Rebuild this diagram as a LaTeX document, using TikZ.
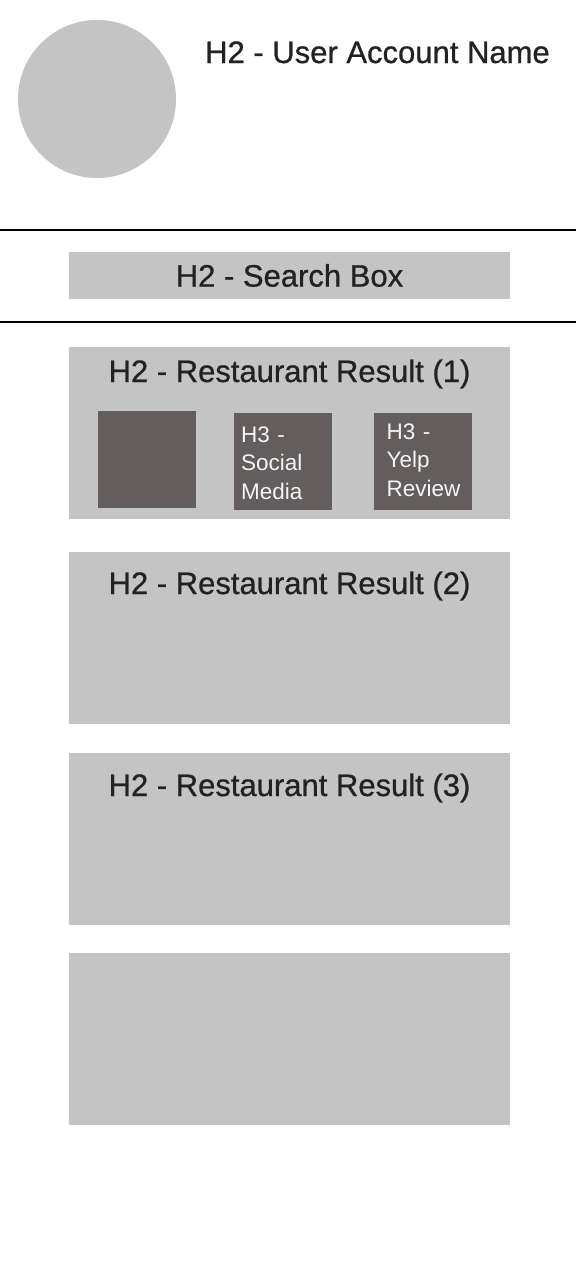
\documentclass[tikz,border=0pt]{standalone}
\usepackage{fontspec}
\setmainfont{Liberation Sans}
\newfontfamily\headfont{Liberation Sans}[FakeBold=0.8]
\usetikzlibrary{positioning,calc}
\definecolor{wfGray}{HTML}{C4C4C4}
\definecolor{wfDark}{HTML}{635D5D}
\definecolor{wfInk}{HTML}{222222}
\tikzset{
  avatar/.style={circle, fill=wfGray, minimum size=158pt, inner sep=0pt},
  h2text/.style={font=\headfont\fontsize{31}{37}\selectfont, text=wfInk, inner sep=0pt},
  h3text/.style={font=\fontsize{22.5}{28.5}\selectfont, text=white!96!black,
    inner sep=0pt, align=left, text width=90pt},
  panel/.style={fill=wfGray, minimum width=441pt, inner sep=0pt, outer sep=0pt},
  searchbox/.style={panel, minimum height=47pt, h2text},
  resultbox/.style={panel, minimum height=171.5pt},
  thumb/.style={fill=wfDark, minimum width=98pt, minimum height=97pt, inner sep=0pt},
  divider/.style={line width=2pt, draw=black}
}

\begin{document}
\begin{tikzpicture}[x=1pt, y=-1pt]
  \useasboundingbox[fill=white] (0,0) rectangle (576,1274);

  % header: avatar and account name
  \node[avatar] (avatar) at (97,99) {};
  \node[h2text, anchor=base west] (username) at (205,63) {H2 - User Account Name};

  % search strip between two rules
  \coordinate (ruleTopL) at (0,230);
  \coordinate (ruleTopR) at (576,230);
  \coordinate (ruleBotL) at (0,322);
  \coordinate (ruleBotR) at (576,322);
  \draw[divider] (ruleTopL) -- (ruleTopR);
  \draw[divider] (ruleBotL) -- (ruleBotR);
  \node[searchbox, anchor=north west] (search) at (69,252) {H2 - Search Box};

  % result cards
  \node[resultbox, anchor=north west] (res1) at (69,347) {};
  \node[resultbox, below=33.5pt of res1] (res2) {};
  \node[resultbox, below=29.5pt of res2] (res3) {};
  \node[resultbox, below=28.5pt of res3] (res4) {};

  \node[h2text, anchor=base] (title1) at ($(res1.north)+(0,35)$) {H2 - Restaurant Result (1)};
  \node[h2text, anchor=base] (title2) at ($(res2.north)+(0,42)$) {H2 - Restaurant Result (2)};
  \node[h2text, anchor=base] (title3) at ($(res3.north)+(0,43)$) {H2 - Restaurant Result (3)};

  % first card content
  \node[thumb, anchor=north west] (photo) at (98,411) {};
  \node[thumb, anchor=north west] (social) at (234,413) {};
  \node[thumb, anchor=north west] (yelp) at (374,413) {};
  \node[h3text, anchor=base west] (socialtext) at ($(social.north west)+(7,29)$) {H3 -\\Social\\Media};
  \node[h3text, anchor=base west] (yelptext) at ($(yelp.north west)+(12.5,26)$) {H3 -\\Yelp\\Review};
\end{tikzpicture}
\end{document}
